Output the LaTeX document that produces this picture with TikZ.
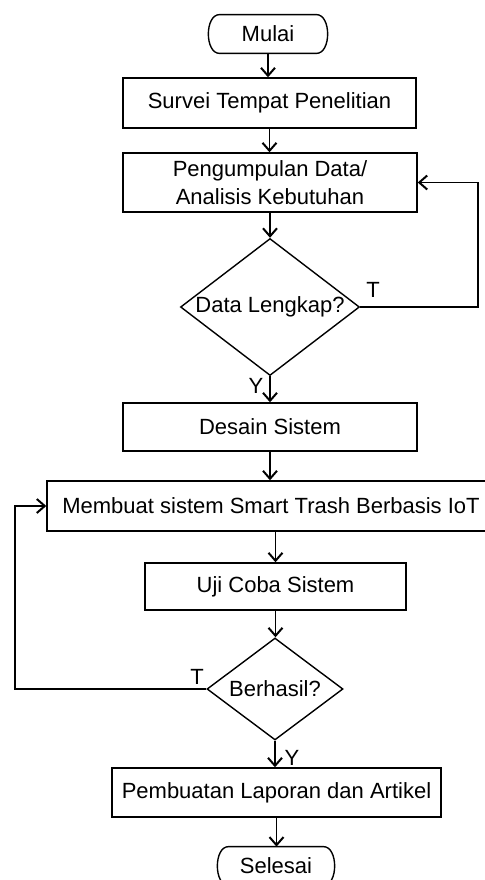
\documentclass[tikz,border=0pt]{standalone}
\usepackage{fontspec}
\setmainfont{Liberation Sans}
\usetikzlibrary{shapes.geometric,arrows.meta}
\newcommand\termshape[1]{%
  \draw[ln] ([xshift=6pt]#1.north west) -- ([xshift=-6pt]#1.north east)
    .. controls ([xshift=1.5pt]#1.north east) and ([xshift=1.5pt]#1.south east) .. ([xshift=-6pt]#1.south east)
    -- ([xshift=6pt]#1.south west)
    .. controls ([xshift=-1.5pt]#1.south west) and ([xshift=-1.5pt]#1.north west) .. cycle;}
\begin{document}
\begin{tikzpicture}[x=0.5pt,y=-0.5pt,
  every node/.style={font=\fontsize{11pt}{14pt}\selectfont},
  proc/.style={draw,line width=0.7pt,rectangle,inner sep=0pt,align=center},
  dia/.style={draw,line width=0.7pt,diamond,inner sep=0pt},
  term/.style={rectangle,inner sep=0pt},
  ln/.style={line width=0.7pt},
  arr/.style={line width=0.7pt,-{Straight Barb[length=4pt,width=7pt,line width=1pt]}}]
\useasboundingbox (0,0) rectangle (485,880);

\node[term, minimum width=60pt, minimum height=19pt] (mulai) at (268,34) {Mulai};
\termshape{mulai}
\node[proc, minimum width=146.5pt, minimum height=25pt] (survei) at (269.5,103) {Survei Tempat Penelitian};
\node[proc, minimum width=147pt, minimum height=29.5pt] (peng) at (270,182.5) {Pengumpulan Data/\\Analisis Kebutuhan};
\node[dia, minimum width=89.5pt, minimum height=68.5pt] (d1) at (270,307) {};
\node (d1t) at (d1) {Data Lengkap?};
\node[proc, minimum width=147pt, minimum height=24pt] (desain) at (270,427) {Desain Sistem};
\node[proc, minimum width=224pt, minimum height=25pt] (membuat) at (271,506) {Membuat sistem Smart Trash Berbasis IoT};
\node[proc, minimum width=130.5pt, minimum height=23.5pt] (uji) at (275.5,586.5) {Uji Coba Sistem};
\node[dia, minimum width=68pt, minimum height=51pt] (d2) at (275,689) {};
\node (d2t) at (d2) {Berhasil?};
\node[proc, minimum width=164.5pt, minimum height=24.5pt] (pemb) at (276.5,792.5) {Pembuatan Laporan dan Artikel};
\node[term, minimum width=59pt, minimum height=19pt] (selesai) at (276,866) {Selesai};
\termshape{selesai}

\draw[arr] (mulai.south) -- (mulai.south |- survei.north);
\draw[arr] (survei.south) -- (survei.south |- peng.north);
\draw[arr] (peng.south) -- (d1.north);
\draw[arr] (d1.south) -- (desain.north);
\draw[arr] (desain.south) -- (desain.south |- membuat.north);
\draw[arr] (uji.north |- membuat.south) -- (uji.north);
\draw[arr] (uji.south) -- (uji.south |- d2.north);
\draw[arr] (d2.south) -- (d2.south |- pemb.north);
\draw[arr] (pemb.south) -- (pemb.south |- selesai.north);

\coordinate (r1) at (478,307);
\draw[arr] (d1.east) -- (r1) |- (peng.east);
\coordinate (l1) at (15,689);
\draw[arr] (d2.west) -- (l1) |- (membuat.west);

\node (t1) at (373,290) {T};
\node (y1) at (256,386) {Y};
\node (t2) at (197,677) {T};
\node (y2) at (292,758) {Y};
\end{tikzpicture}
\end{document}
